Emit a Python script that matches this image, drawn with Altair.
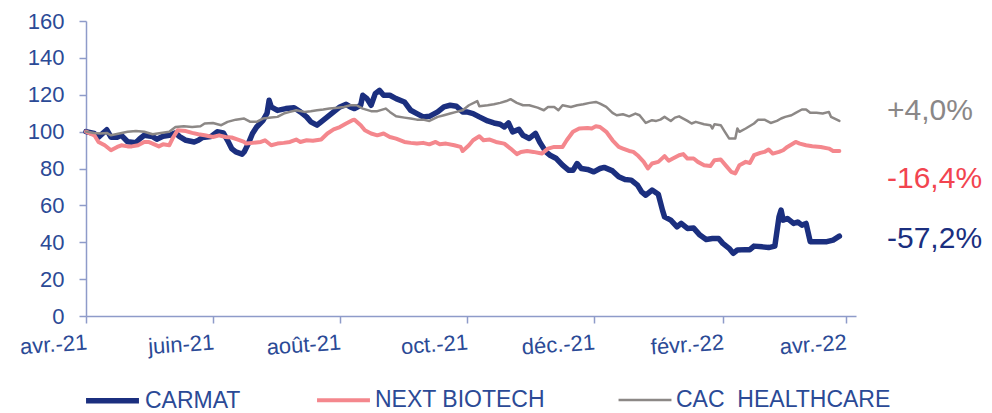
import altair as alt
import pandas as pd

# ---- data (day offset from 2021-04-01, index value base 100) ----
series_names = ["CARMAT", "NEXT BIOTECH", "CAC\u00a0 HEALTHCARE"]
series_colors = ["#1b2f7f", "#f4878d", "#8c8886"]

carmat_days = [0, 4, 6, 10, 12, 15, 17, 20, 24, 26,
               28, 32, 34, 37, 40, 43, 45, 48, 52, 54,
               56, 60, 63, 66, 68, 70, 72, 75, 76, 78,
               80, 82, 85, 87, 88, 89, 92, 96, 100, 103,
               106, 108, 111, 113, 116, 119, 122, 125, 127, 129,
               132, 133, 135, 137, 139, 141, 143, 146, 149, 153,
               156, 159, 162, 165, 169, 172, 175, 178, 181, 183,
               186, 189, 193, 196, 199, 201, 203, 205, 208, 210,
               213, 216, 218, 221, 223, 226, 229, 232, 234, 236,
               238, 241, 244, 247, 249, 253, 256, 259, 262, 265,
               267, 269, 272, 275, 277, 278, 281, 284, 286, 289,
               292, 295, 298, 301, 304, 306, 309, 311, 313, 317,
               319, 321, 325, 328, 331, 333, 334, 335, 337, 340,
               342, 344, 346, 348, 351, 356, 359, 362]
carmat_values = [100, 99, 97, 101, 97, 97, 98, 94.5, 94, 96.3,
                 98, 97.3, 95.9, 97.5, 98, 99.3, 97.3, 95.3, 94.4, 95.3,
                 96.8, 97.3, 99.9, 99.3, 95.3, 90.8, 89, 87.8, 89, 93.5,
                 99, 102.5, 106, 110, 117, 113.4, 111.5, 112.5, 113, 110.7,
                 108, 105.3, 103.5, 105.3, 108, 110.7, 113.4, 114.8, 113.4, 112.5,
                 114.3, 119.7, 117.9, 114.3, 120.6, 122.4, 119.7, 119.7, 117.9, 116.1,
                 111.6, 109.8, 108, 108.3, 110.7, 113.4, 114.3, 113.8, 110.7, 110.7,
                 109.8, 108, 105.8, 104.7, 104, 102.5, 104.7, 99.9, 101.2, 98,
                 96.3, 99, 94.4, 89, 87.2, 85.4, 81.8, 79, 79, 82.7,
                 80, 79.5, 78.2, 80, 80.6, 78.7, 75.5, 74, 73.7, 71,
                 67.3, 65.5, 68.3, 66, 57.4, 53.8, 52, 48.4, 50.2, 47.5,
                 47.7, 43.9, 41.5, 42, 42, 39.4, 36.7, 34, 35.8, 36,
                 36, 37.9, 37.5, 37.1, 37.9, 53.8, 57.4, 52, 52.9, 50.2,
                 51, 49.3, 50.2, 40.3, 40.3, 40.3, 41.2, 43.3]

next_days = [0, 4, 6, 9, 12, 15, 17, 20, 22, 25,
             28, 30, 32, 35, 37, 40, 42, 44, 48, 51,
             54, 57, 61, 64, 67, 70, 73, 76, 77, 80,
             84, 86, 89, 92, 95, 98, 101, 103, 106, 109,
             113, 116, 119, 122, 125, 128, 129, 132, 134, 137,
             140, 143, 146, 149, 153, 156, 159, 162, 165, 168,
             170, 173, 177, 180, 181, 184, 186, 189, 191, 194,
             197, 201, 204, 207, 209, 212, 215, 219, 222, 225,
             229, 231, 234, 237, 241, 243, 245, 247, 250, 253,
             256, 258, 261, 263, 265, 268, 270, 272, 275, 278,
             280, 282, 285, 287, 289, 292, 294, 297, 300, 302,
             305, 308, 310, 312, 314, 317, 319, 321, 324, 326,
             328, 330, 333, 335, 337, 341, 343, 346, 349, 353,
             357, 359, 362]
next_values = [100, 98, 94.4, 92.6, 89.9, 91.7, 92.6, 92, 92, 92.6,
               94.4, 94.4, 93.5, 92, 93.1, 92.6, 97.1, 100.7, 100.3, 99.3,
               98.6, 98, 97.1, 98, 97.1, 96.8, 95.7, 94.4, 93.5, 93.9,
               94.4, 95.3, 92.6, 93.5, 93.9, 94.4, 95.7, 94.4, 95.3, 95,
               95.7, 99, 101.2, 102.5, 104.4, 106.2, 106.5, 103.5, 100.7, 99,
               98, 99, 97.1, 96.2, 94.4, 93.9, 93.5, 93.9, 93.1, 94.4,
               93.1, 93.5, 92.6, 91.7, 89.5, 92.6, 95.3, 97.5, 95.3, 95.7,
               94.4, 93.5, 90.8, 87.8, 89, 89.5, 89, 88.1, 90.8, 91.7,
               91.7, 95.3, 99.9, 101.7, 102, 101.7, 102.9, 102.5, 99.9, 95.3,
               91.7, 90.8, 89.5, 89, 87.2, 83.6, 80, 82.7, 83.6, 86.7,
               84.2, 85.4, 87.2, 87.8, 85.4, 85.4, 83.6, 81.8, 81.3, 84.5,
               84.9, 80.9, 78.2, 77.3, 81.8, 83.6, 83, 87.2, 88.5, 89,
               90.3, 88.1, 89, 89.9, 91.7, 94.4, 93.5, 92.6, 92.1, 91.7,
               90.8, 89.5, 89.5]

cac_days = [0, 4, 7, 10, 12, 16, 20, 24, 28, 32,
            36, 40, 43, 47, 51, 55, 57, 61, 65, 68,
            72, 76, 79, 82, 85, 89, 92, 95, 98, 101,
            105, 108, 111, 114, 117, 121, 124, 127, 130, 133,
            137, 140, 144, 146, 149, 153, 156, 159, 162, 165,
            169, 172, 175, 178, 181, 184, 188, 189, 193, 196,
            199, 202, 204, 207, 210, 213, 217, 220, 222, 225,
            227, 229, 233, 236, 239, 242, 245, 247, 250, 253,
            255, 258, 261, 264, 266, 269, 272, 274, 276, 278,
            281, 283, 285, 289, 291, 293, 297, 300, 301, 302,
            305, 307, 309, 312, 313, 314, 317, 321, 323, 326,
            329, 332, 334, 336, 339, 341, 344, 346, 348, 351,
            354, 357, 358, 362]
cac_values = [100, 99.3, 99, 99.3, 98, 99, 99.9, 100.3, 99.9, 98.6,
              99.3, 99.9, 102.5, 102.9, 102.5, 102.9, 104.4, 104.7, 103.5, 105.3,
              106.5, 107.1, 105.3, 105.3, 107.1, 107.6, 108, 109.8, 110.7, 111.6,
              110.7, 111.1, 111.6, 112, 112.5, 113, 113.4, 114.3, 114.3, 112.5,
              111.1, 111.1, 112.5, 110.7, 108.3, 107.6, 107.1, 106.5, 106.5, 105.8,
              108, 108.9, 109.8, 110.7, 111.6, 114.3, 116.6, 113.8, 114.3, 114.8,
              115.6, 116.6, 117.6, 115.6, 114.3, 114.3, 113, 111.6, 113.4, 113.4,
              111.6, 114.3, 113.4, 114.3, 114.8, 115.6, 116.1, 115.2, 113.4, 110.2,
              108.9, 109.4, 108.3, 109.8, 108.9, 104.7, 106.2, 105.8, 106.5, 108,
              105.8, 107.6, 108.3, 105.8, 104.4, 105.3, 104, 103.5, 101.7, 104,
              103.5, 99.9, 96.3, 96.3, 101.7, 99.9, 101.7, 104.4, 106.5, 106.5,
              104.7, 105.8, 107.1, 108, 108.9, 110.2, 112, 112, 110.2, 110.2,
              109.8, 110.7, 108, 105.8]

perf_labels = ["+4,0%", "-16,4%", "-57,2%"]
perf_colors = ["#8a8787", "#f2444f", "#1b2f7f"]

x_tick_dates = ["2021-04-01", "2021-06-01", "2021-08-01", "2021-10-01",
                "2021-12-01", "2022-02-01", "2022-04-01"]
month_names_fr = ["janv.", "févr.", "mars", "avr.", "mai", "juin",
                  "juil.", "août", "sept.", "oct.", "nov.", "déc."]
y_ticks = [0, 20, 40, 60, 80, 100, 120, 140, 160]

# ---- build long table ----
start = pd.Timestamp("2021-04-01")


def frame(name, days, vals):
    d = start + pd.to_timedelta(days, unit="D")
    return pd.DataFrame({"date": d.strftime("%Y-%m-%d"), "value": vals, "series": name})


df = pd.concat([
    frame(series_names[0], carmat_days, carmat_values),
    frame(series_names[1], next_days, next_values),
    frame(series_names[2], cac_days, cac_values),
], ignore_index=True)

FONT = "Liberation Sans"
AXIS_COLOR = "#8e9bc9"
LABEL_COLOR = "#2b4a96"

month_arr = "[" + ",".join("'" + m + "'" for m in month_names_fr) + "]"
x_label_expr = month_arr + "[month(datum.value)] + '-' + timeFormat(datum.value, '%y')"

x_enc = alt.X(
    "date:T",
    scale=alt.Scale(domain=["2021-04-01", "2022-04-06"]),
    axis=alt.Axis(
        values=x_tick_dates,
        labelExpr=x_label_expr,
        labelAngle=356,
        labelAlign="right",
        labelBaseline="top",
        labelPadding=9,
        labelOverlap=False,
        labelBound=False,
        labelFlush=False,
        grid=False,
        title=None,
    ),
)
y_axis = alt.Axis(values=y_ticks, grid=False, title=None, labelPadding=15,
                  labelOverlap=False, labelFlush=False)
y_enc = alt.Y(
    "value:Q",
    scale=alt.Scale(domain=[0, 160], nice=False, zero=True),
    axis=y_axis,
)

legend_def = alt.Legend(
    orient="none",
    legendX=-3,
    legendY=350,
    direction="horizontal",
    title=None,
    symbolType="stroke",
    symbolSize=2800,
    symbolStrokeWidth=4,
    labelFontSize=23,
    labelFont=FONT,
    labelColor=LABEL_COLOR,
    labelOffset=3,
    labelLimit=400,
    columnPadding=68,
)

lines = alt.Chart(df).mark_line(strokeJoin="round", strokeCap="round").encode(
    x=x_enc,
    y=y_enc,
    color=alt.Color("series:N", scale=alt.Scale(domain=series_names, range=series_colors),
                    legend=legend_def),
    strokeWidth=alt.StrokeWidth("series:N",
                                scale=alt.Scale(domain=series_names, range=[5.5, 2.5, 2.5]),
                                legend=None),
    order=alt.Order("date:T"),
)

ann_y = [106.2, 69.2, 36.7]
one_row = pd.DataFrame({"k": [0]})
texts = []
for lab, col, yv in zip(perf_labels, perf_colors, ann_y):
    texts.append(
        alt.Chart(one_row).mark_text(
            text=lab, color=col, fontSize=30, font=FONT, align="left", baseline="alphabetic"
        ).encode(x=alt.value(801), y=alt.Y(datum=yv, axis=y_axis))
    )

chart = alt.layer(lines, *texts).properties(
    width=770,
    height=295,
    autosize=alt.AutoSizeParams(type="none"),
    padding={"left": 78, "top": 13, "right": 128, "bottom": 97},
).configure_view(stroke=None).configure_axis(
    domainColor=AXIS_COLOR,
    domainWidth=1.5,
    tickColor=AXIS_COLOR,
    tickWidth=1.5,
    tickSize=7,
    labelColor=LABEL_COLOR,
    labelFontSize=22,
    labelFont=FONT,
).configure_axisY(labelOverlap=False)

chart.save("out.html", embed_options={"renderer": "svg", "actions": False})
